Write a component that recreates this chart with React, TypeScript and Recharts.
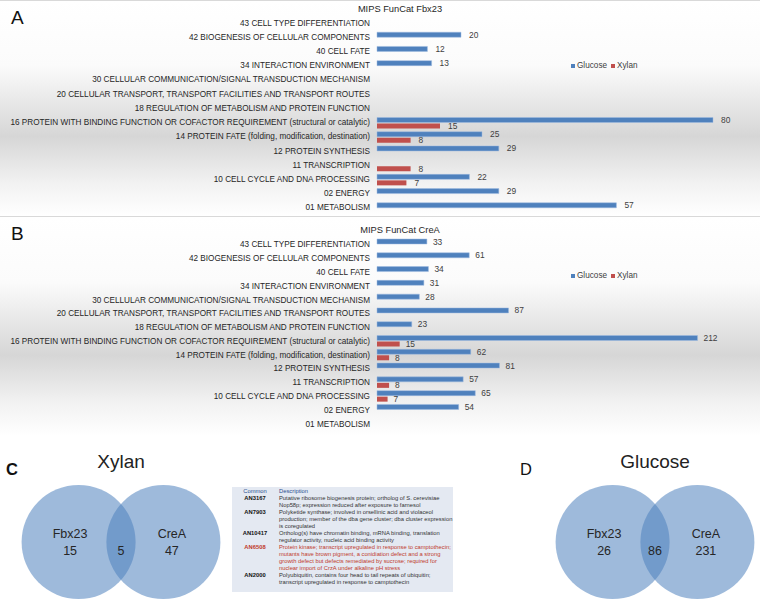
import React from 'react';
import { BarChart, Bar, XAxis, YAxis, Legend, ScatterChart, Scatter } from 'recharts';

const FONT = '"Liberation Sans", Arial, sans-serif';
const BLUE = '#4f81bd';
const RED = '#c0504d';

const categories = [
  '43 CELL TYPE DIFFERENTIATION',
  '42 BIOGENESIS OF CELLULAR COMPONENTS',
  '40 CELL FATE',
  '34 INTERACTION ENVIRONMENT',
  '30 CELLULAR COMMUNICATION/SIGNAL TRANSDUCTION MECHANISM',
  '20 CELLULAR TRANSPORT, TRANSPORT FACILITIES AND TRANSPORT ROUTES',
  '18 REGULATION OF METABOLISM AND PROTEIN FUNCTION',
  '16 PROTEIN WITH BINDING FUNCTION OR COFACTOR REQUIREMENT (structural or catalytic)',
  '14 PROTEIN FATE (folding, modification, destination)',
  '12 PROTEIN SYNTHESIS',
  '11 TRANSCRIPTION',
  '10 CELL CYCLE AND DNA PROCESSING',
  '02 ENERGY',
  '01 METABOLISM',
];

const seriesNames = ['Glucose', 'Xylan'];
const seriesColors = [BLUE, RED];

// panel A - Fbx23
const fbx23Glucose = [null, 20, 12, 13, null, null, null, 80, 25, 29, null, 22, 29, 57];
const fbx23Xylan = [null, null, null, null, null, null, null, 15, 8, null, 8, 7, null, null];

// panel B - CreA
const creaGlucose = [33, 61, 34, 31, 28, 87, 23, 212, 62, 81, 57, 65, 54, null];
const creaXylan = [null, null, null, null, null, null, null, 15, 8, null, 8, 7, null, null];

// venn diagrams
const vennSets = ['Fbx23', 'CreA'];
const xylanOnly = [15, 47];
const xylanShared = 5;
const glucoseOnly = [26, 231];
const glucoseShared = 86;

// common genes table
const geneIds = ['AN3167', 'AN7903', 'AN10417', 'AN6508', 'AN2000'];
const geneDescriptions = [
  ['Putative ribosome biogenesis protein; ortholog of S. cerevisiae', 'Nop58p; expression reduced after exposure to farnesol'],
  [
    'Polyketide synthase; involved in orsellinic acid and violaceol',
    'production; member of the dba gene cluster; dba cluster expression',
    'is coregulated',
  ],
  ['Ortholog(s) have chromatin binding, mRNA binding, translation', 'regulator activity, nucleic acid binding activity'],
  [
    'Protein kinase; transcript upregulated in response to camptothecin;',
    'mutants have brown pigment, a conidiation defect and a strong',
    'growth defect but defects remediated by sucrose; required for',
    'nuclear import of CrzA under alkaline pH stress',
  ],
  ['Polyubiquitin, contains four head to tail repeats of ubiquitin;', 'transcript upregulated in response to camptothecin'],
];
const highlightedGene = 'AN6508';

function valueLabel(offset: number) {
  return (props: any) => {
    const { x, y, width, height, value } = props;
    if (value === null || value === undefined) return null;
    return (
      <text
        x={Number(x) + Number(width) + offset}
        y={Number(y) + Number(height) / 2}
        dominantBaseline="central"
        fontSize={8.4}
        fill="#404040"
        fontFamily={FONT}
      >
        {value}
      </text>
    );
  };
}

// plain svg text so long category names stay on one line
function CategoryTick(props: any) {
  const { x, y, payload } = props;
  return (
    <text x={x} y={y} textAnchor="end" dominantBaseline="central" fontSize={8.2} fill="#262626" fontFamily={FONT}>
      {payload.value}
    </text>
  );
}

function renderLegend() {
  return (
    <div style={{ display: 'flex', alignItems: 'center', fontSize: 8.2, fontFamily: FONT, color: '#404040', whiteSpace: 'nowrap' }}>
      {seriesNames.map((n, i) => (
        <span key={n} style={{ display: 'inline-flex', alignItems: 'center', marginRight: 4 }}>
          <span style={{ display: 'inline-block', width: 4, height: 4, background: seriesColors[i], marginRight: 2 }} />
          {n}
        </span>
      ))}
    </div>
  );
}

interface FunCatProps {
  letter: string;
  title: string;
  glucose: (number | null)[];
  xylan: (number | null)[];
  max: number;
  top: number;
  height: number;
  marginTop: number;
  marginBottom: number;
  titleY: number;
  legendY: number;
  labelOffset: number;
}

function FunCatPanel({ letter, title, glucose, xylan, max, top, height, marginTop, marginBottom, titleY, legendY, labelOffset }: FunCatProps) {
  const data = categories.map((name, i) => ({ name, glucose: glucose[i], xylan: xylan[i] }));
  return (
    <div
      style={{
        position: 'absolute',
        left: 0,
        top,
        width: 760,
        height,
        boxSizing: 'border-box',
        borderTop: '1px solid #d9d9d9',
        background: 'linear-gradient(to bottom, #ffffff 0%, #fbfbfb 30%, #d6d6d6 63%, #f2f2f2 85%, #ffffff 100%)',
      }}
    >
      <div style={{ position: 'absolute', left: 11, top: 6, fontSize: 19, fontFamily: FONT, color: '#111' }}>{letter}</div>
      <div
        style={{
          position: 'absolute',
          left: 300,
          width: 200,
          top: titleY - 6,
          textAlign: 'center',
          fontSize: 9.3,
          fontFamily: FONT,
          color: '#262626',
        }}
      >
        {title}
      </div>
      <BarChart
        width={760}
        height={height - 1}
        data={data}
        layout="vertical"
        margin={{ top: marginTop, right: 5, bottom: marginBottom, left: 0 }}
        barSize={5}
        barGap={1}
      >
        <XAxis type="number" domain={[0, max]} hide />
        <YAxis
          type="category"
          dataKey="name"
          width={377}
          tickLine={false}
          axisLine={false}
          tickSize={0}
          tickMargin={7}
          interval={0}
          tick={<CategoryTick />}
        />
        <Bar dataKey="glucose" name={seriesNames[0]} fill={BLUE} stroke="#9fbbe0" strokeWidth={0.5} isAnimationActive={false} label={valueLabel(labelOffset)} />
        <Bar dataKey="xylan" name={seriesNames[1]} fill={RED} isAnimationActive={false} label={valueLabel(labelOffset)} />
        <Legend
          layout="horizontal"
          verticalAlign="middle"
          align="center"
          content={renderLegend}
          wrapperStyle={{ left: 571, top: legendY - 6, width: 'auto', height: 'auto' }}
        />
      </BarChart>
    </div>
  );
}

const CIRCLE_R = 57;

interface VennProps {
  letter: string;
  letterBold: boolean;
  letterLeft: number;
  title: string;
  only: number[];
  shared: number;
  centerX: number;
}

function VennPanel({ letter, letterBold, letterLeft, title, only, shared, centerX }: VennProps) {
  const circles = vennSets.map((name, i) => ({ x: i === 0 ? -1 : 1, y: 0, name }));
  const labels = [
    { x: -1.2, y: 0, name: vennSets[0], count: only[0] },
    { x: 0, y: 0, name: '', count: shared },
    { x: 1.2, y: 0, name: vennSets[1], count: only[1] },
  ];
  const w = 212;
  return (
    <>
      <div
        style={{
          position: 'absolute',
          left: letterLeft,
          top: 460,
          fontSize: 16.5,
          fontWeight: letterBold ? 'bold' : 'normal',
          fontFamily: FONT,
          color: '#111',
        }}
      >
        {letter}
      </div>
      <div
        style={{
          position: 'absolute',
          left: centerX - 80,
          width: 160,
          top: 451,
          textAlign: 'center',
          fontSize: 19,
          fontFamily: FONT,
          color: '#222',
        }}
      >
        {title}
      </div>
      <div style={{ position: 'absolute', left: centerX - w / 2, top: 482 }}>
        <ScatterChart width={w} height={120} margin={{ top: 0, right: 0, bottom: 0, left: 0 }}>
          <XAxis type="number" dataKey="x" domain={[-2.5, 2.5]} hide />
          <YAxis type="number" dataKey="y" domain={[-1, 1]} hide />
          <Scatter
            data={circles}
            isAnimationActive={false}
            shape={(p: any) => <circle cx={p.cx} cy={p.cy} r={CIRCLE_R} fill={BLUE} fillOpacity={0.55} />}
          />
          <Scatter
            data={labels}
            isAnimationActive={false}
            shape={(p: any) => (
              <g fontFamily={FONT} fontSize={12.5} fill="#262626" textAnchor="middle">
                {p.payload.name ? (
                  <text x={p.cx} y={p.cy - 8} dominantBaseline="central">
                    {p.payload.name}
                  </text>
                ) : null}
                <text x={p.cx} y={p.cy + 9} dominantBaseline="central">
                  {p.payload.count}
                </text>
              </g>
            )}
          />
        </ScatterChart>
      </div>
    </>
  );
}

function GeneTable() {
  return (
    <div style={{ position: 'absolute', left: 232, top: 487, width: 221, height: 105, background: '#e4e9f2', overflow: 'hidden' }}>
      <div
        style={{
          width: 442,
          transform: 'scale(0.5)',
          transformOrigin: 'top left',
          fontFamily: FONT,
          fontSize: 11.6,
          lineHeight: '13.9px',
          color: '#333',
          whiteSpace: 'nowrap',
          paddingTop: 1,
        }}
      >
        <div style={{ display: 'flex', color: '#2a4f8f' }}>
          <div style={{ width: 92, textAlign: 'center' }}>Common</div>
          <div style={{ paddingLeft: 2 }}>Description</div>
        </div>
        {geneIds.map((id, i) => {
          const hot = id === highlightedGene;
          return (
            <div key={id} style={{ display: 'flex', color: hot ? '#c0392b' : '#333' }}>
              <div style={{ width: 92, textAlign: 'center', fontWeight: 'bold', color: hot ? '#c0392b' : '#111' }}>{id}</div>
              <div style={{ paddingLeft: 2 }}>
                {geneDescriptions[i].map((line, j) => (
                  <div key={j}>{line}</div>
                ))}
              </div>
            </div>
          );
        })}
      </div>
    </div>
  );
}

export default function App() {
  return (
    <div style={{ position: 'absolute', left: 0, top: 0, width: 760, height: 599, background: '#fff', overflow: 'hidden' }}>
      <FunCatPanel
        letter="A"
        title="MIPS FunCat Fbx23"
        glucose={fbx23Glucose}
        xylan={fbx23Xylan}
        max={90}
        top={0}
        height={216}
        marginTop={15}
        marginBottom={1}
        titleY={9}
        legendY={66}
        labelOffset={8}
      />
      <FunCatPanel
        letter="B"
        title="MIPS FunCat CreA"
        glucose={creaGlucose}
        xylan={creaXylan}
        max={250}
        top={216}
        height={220}
        marginTop={21}
        marginBottom={5}
        titleY={14}
        legendY={60}
        labelOffset={6}
      />
      <VennPanel letter="C" letterBold letterLeft={6} title="Xylan" only={xylanOnly} shared={xylanShared} centerX={121} />
      <GeneTable />
      <VennPanel letter="D" letterBold={false} letterLeft={520} title="Glucose" only={glucoseOnly} shared={glucoseShared} centerX={655} />
    </div>
  );
}
